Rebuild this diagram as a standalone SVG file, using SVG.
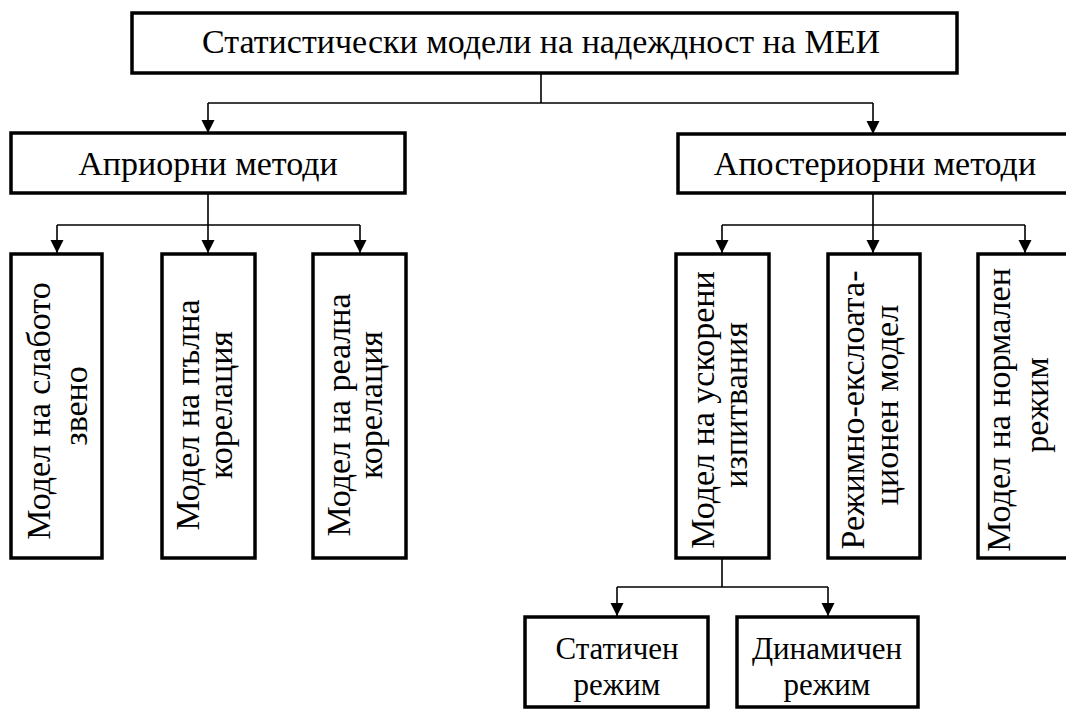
<svg xmlns="http://www.w3.org/2000/svg" width="1066" height="709" viewBox="0 0 1066 709">
<defs>
<style>
.box{fill:#fff;stroke:#000;stroke-width:3.5}
.ln{fill:none;stroke:#000;stroke-width:1.6}
.t{font-family:"Liberation Serif","Times New Roman",serif;font-size:34px;fill:#000;text-anchor:middle}
.b{font-size:31px}
</style>
<marker id="ah" markerUnits="userSpaceOnUse" markerWidth="14" markerHeight="14" refX="13" refY="6.5" orient="auto">
<path d="M0,0 L13,6.5 L0,13 Z" fill="#000"/>
</marker>
</defs>
<rect width="1066" height="709" fill="#fff"/>
<g id="connectors">
<path class="ln" d="M541,73 V103 M208,103 H873"/>
<path class="ln" d="M208,103 V133" marker-end="url(#ah)"/>
<path class="ln" d="M873,103 V134" marker-end="url(#ah)"/>
<path class="ln" d="M208,193 V225 M57,225 H360"/>
<path class="ln" d="M57,225 V253" marker-end="url(#ah)"/>
<path class="ln" d="M208,225 V253" marker-end="url(#ah)"/>
<path class="ln" d="M360,225 V253" marker-end="url(#ah)"/>
<path class="ln" d="M873,193 V225 M722,225 H1025"/>
<path class="ln" d="M722,225 V253" marker-end="url(#ah)"/>
<path class="ln" d="M873,225 V253" marker-end="url(#ah)"/>
<path class="ln" d="M1025,225 V253" marker-end="url(#ah)"/>
<path class="ln" d="M722,558 V587 M617,587 H828"/>
<path class="ln" d="M617,587 V616" marker-end="url(#ah)"/>
<path class="ln" d="M828,587 V616" marker-end="url(#ah)"/>
</g>
<g id="root">
<rect class="box" x="132" y="13" width="825" height="60"/>
<text class="t" x="541" y="53">Статистически модели на надеждност на МЕИ</text>
</g>
<g id="apriori">
<rect class="box" x="11" y="133" width="394" height="60"/>
<text class="t" x="208" y="175">Априорни методи</text>
</g>
<g id="aposteriori">
<rect class="box" x="678" y="134" width="400" height="59"/>
<text class="t" x="875" y="175">Апостериорни методи</text>
</g>
<g id="weak-link">
<rect class="box" x="11" y="254" width="91" height="304"/>
<text class="t" transform="rotate(-90)"><tspan x="-411" y="50">Модел на слабото</tspan><tspan x="-406" y="87">звено</tspan></text>
</g>
<g id="full-corr">
<rect class="box" x="162" y="254" width="93" height="304"/>
<text class="t" transform="rotate(-90)"><tspan x="-415" y="199">Модел на пълна</tspan><tspan x="-405" y="232">корелация</tspan></text>
</g>
<g id="real-corr">
<rect class="box" x="313" y="254" width="93" height="304"/>
<text class="t" transform="rotate(-90)"><tspan x="-415" y="350">Модел на реална</tspan><tspan x="-405" y="382">корелация</tspan></text>
</g>
<g id="accelerated">
<rect class="box" x="676" y="254" width="93" height="304"/>
<text class="t" transform="rotate(-90)"><tspan x="-410" y="714">Модел на ускорени</tspan><tspan x="-405" y="747">изпитвания</tspan></text>
</g>
<g id="operational">
<rect class="box" x="828" y="254" width="92" height="304"/>
<text class="t" transform="rotate(-90)"><tspan x="-410" y="864">Режимно-екслоата-</tspan><tspan x="-405" y="898">ционен модел</tspan></text>
</g>
<g id="normal">
<rect class="box" x="978" y="254" width="92" height="304"/>
<text class="t" transform="rotate(-90)"><tspan x="-410" y="1010">Модел на нормален</tspan><tspan x="-405" y="1048">режим</tspan></text>
</g>
<g id="static">
<rect class="box" x="525" y="617" width="183" height="90"/>
<text class="t b"><tspan x="617" y="659">Статичен</tspan><tspan x="617" y="695">режим</tspan></text>
</g>
<g id="dynamic">
<rect class="box" x="737" y="617" width="181" height="90"/>
<text class="t b"><tspan x="827" y="659">Динамичен</tspan><tspan x="827" y="695">режим</tspan></text>
</g>
</svg>
